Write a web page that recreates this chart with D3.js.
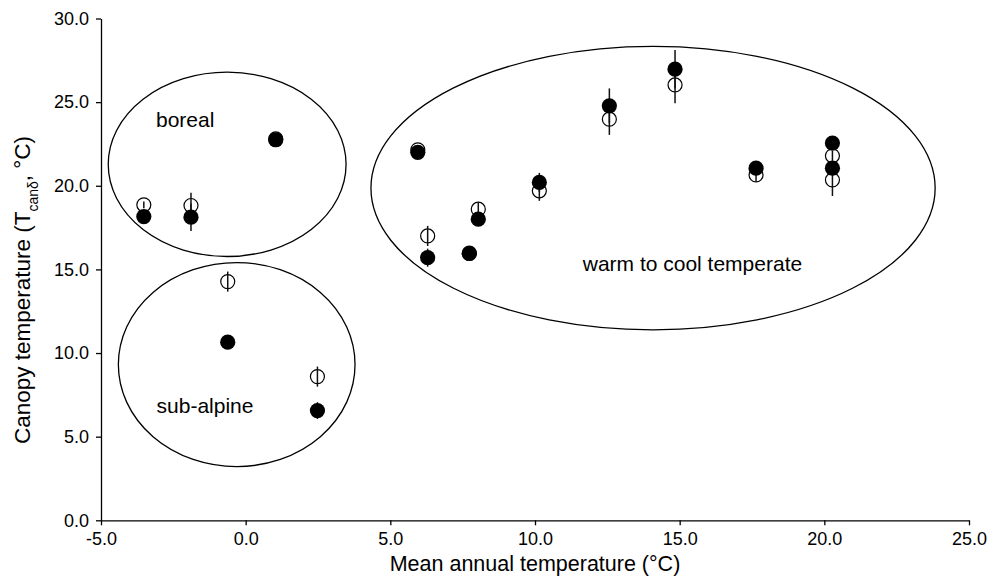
<!DOCTYPE html>
<html lang="en">
<head>
    <meta charset="UTF-8">
    <title>Canopy temperature vs mean annual temperature</title>
    <script src="https://d3js.org/d3.v7.min.js"></script>
    <style>
        body { margin: 0; background: #fff; }
        svg { display: block; font-family: "Liberation Sans", Arial, Helvetica, sans-serif; }
    </style>
</head>
<body>
    <svg></svg>
    <script>
        // mean annual temperature of each site
        const mat = [-3.52, -1.89, 1.04, -0.62, 2.48, 5.95, 6.29, 7.73, 8.04, 10.15, 12.57, 14.84, 17.64, 20.28, 20.28];
        // open symbols and their error
        const openVals = [18.86, 18.82, 22.8, 14.27, 8.59, 22.15, 17.0, 15.95, 18.6, 19.7, 23.98, 26.03, 20.65, 21.79, 20.35];
        const openErr  = [0.2, 0.76, 0.2, 0.6, 0.6, 0.2, 0.6, 0.2, 0.4, 0.6, 0.94, 1.1, 0.4, 0.3, 0.96];
        // filled symbols and their error
        const filledVals = [18.16, 18.12, 22.75, 10.65, 6.56, 22.0, 15.7, 15.97, 18.0, 20.2, 24.78, 26.97, 21.05, 22.55, 21.05];
        const filledErr  = [0.3, 0.82, 0.2, 0.2, 0.5, 0.2, 0.54, 0.2, 0.2, 0.57, 1.04, 1.15, 0.2, 0.3, 0.3];

        const xTicks = [-5, 0, 5, 10, 15, 20, 25];
        const yTicks = [0, 5, 10, 15, 20, 25, 30];

        // climate zone outlines (data units)
        const zones = [
            {name: "boreal", cx: -0.64, cy: 21.28, rx: 4.11, ry: 5.51, lx: -3.10, ly: 23.54},
            {name: "sub-alpine", cx: -0.31, cy: 9.31, rx: 4.09, ry: 6.10, lx: -3.08, ly: 6.4},
            {name: "warm to cool temperate", cx: 14.08, cy: 19.86, rx: 9.75, ry: 8.47, lx: 11.65, ly: 14.93}
        ];

        const width = 989, height = 581;
        const svg = d3.select("svg").attr("width", width).attr("height", height);

        const x = d3.scaleLinear().domain([-5, 25]).range([101, 969]);
        const y = d3.scaleLinear().domain([0, 30]).range([520.3, 18.5]);

        const pts = mat.map((m, i) => ({
            x: m, o: openVals[i], oe: openErr[i], f: filledVals[i], fe: filledErr[i]
        }));

        // zone ellipses
        svg.append("g").selectAll("ellipse")
            .data(zones)
            .join("ellipse")
            .attr("cx", d => x(d.cx))
            .attr("cy", d => y(d.cy))
            .attr("rx", d => x(d.cx + d.rx) - x(d.cx))
            .attr("ry", d => y(d.cy) - y(d.cy + d.ry))
            .attr("fill", "none")
            .attr("stroke", "#000")
            .attr("stroke-width", 1.3);

        svg.append("g").selectAll("text")
            .data(zones)
            .join("text")
            .attr("x", d => x(d.lx))
            .attr("y", d => y(d.ly))
            .attr("font-size", 21)
            .text(d => d.name);

        // axes (plain hyphen for negatives, like the original)
        const fmt = d => d.toFixed(1);
        const xAxis = svg.append("g")
            .attr("transform", `translate(0,${y(0)})`)
            .call(d3.axisBottom(x).tickValues(xTicks).tickFormat(fmt)
                .tickSize(5).tickSizeOuter(0).tickPadding(7));
        const yAxis = svg.append("g")
            .attr("transform", `translate(${x(-5)},0)`)
            .call(d3.axisLeft(y).tickValues(yTicks).tickFormat(fmt)
                .tickSize(5).tickSizeOuter(0).tickPadding(7));
        [xAxis, yAxis].forEach(g => {
            g.attr("font-family", null).attr("font-size", 18);
            g.selectAll("path, line").attr("stroke", "#000").attr("stroke-width", 1.3);
            g.selectAll("text").attr("fill", "#000");
        });

        // open symbols
        svg.append("g").selectAll("circle")
            .data(pts)
            .join("circle")
            .attr("cx", d => x(d.x))
            .attr("cy", d => y(d.o))
            .attr("r", 7)
            .attr("fill", "none")
            .attr("stroke", "#000")
            .attr("stroke-width", 1.2);

        svg.append("g").selectAll("line")
            .data(pts)
            .join("line")
            .attr("x1", d => x(d.x)).attr("x2", d => x(d.x))
            .attr("y1", d => y(d.o - d.oe)).attr("y2", d => y(d.o + d.oe))
            .attr("stroke", "#111").attr("stroke-width", 1.5);

        svg.append("g").selectAll("line")
            .data(pts)
            .join("line")
            .attr("x1", d => x(d.x)).attr("x2", d => x(d.x))
            .attr("y1", d => y(d.f - d.fe)).attr("y2", d => y(d.f + d.fe))
            .attr("stroke", "#111").attr("stroke-width", 1.5);

        // filled symbols
        svg.append("g").selectAll("circle")
            .data(pts)
            .join("circle")
            .attr("cx", d => x(d.x))
            .attr("cy", d => y(d.f))
            .attr("r", 7.6)
            .attr("fill", "#000");

        // axis titles
        svg.append("text")
            .attr("x", 535).attr("y", 571)
            .attr("text-anchor", "middle")
            .attr("font-size", 21.5)
            .text("Mean annual temperature (°C)");

        const yt = svg.append("text")
            .attr("transform", "translate(29.5,290) rotate(-90)")
            .attr("text-anchor", "middle")
            .attr("font-size", 22.5);
        yt.append("tspan").text("Canopy temperature (T");
        yt.append("tspan").attr("baseline-shift", "sub").attr("font-size", 14).text("canδ");
        yt.append("tspan").text(", °C)");
    </script>
</body>
</html>
